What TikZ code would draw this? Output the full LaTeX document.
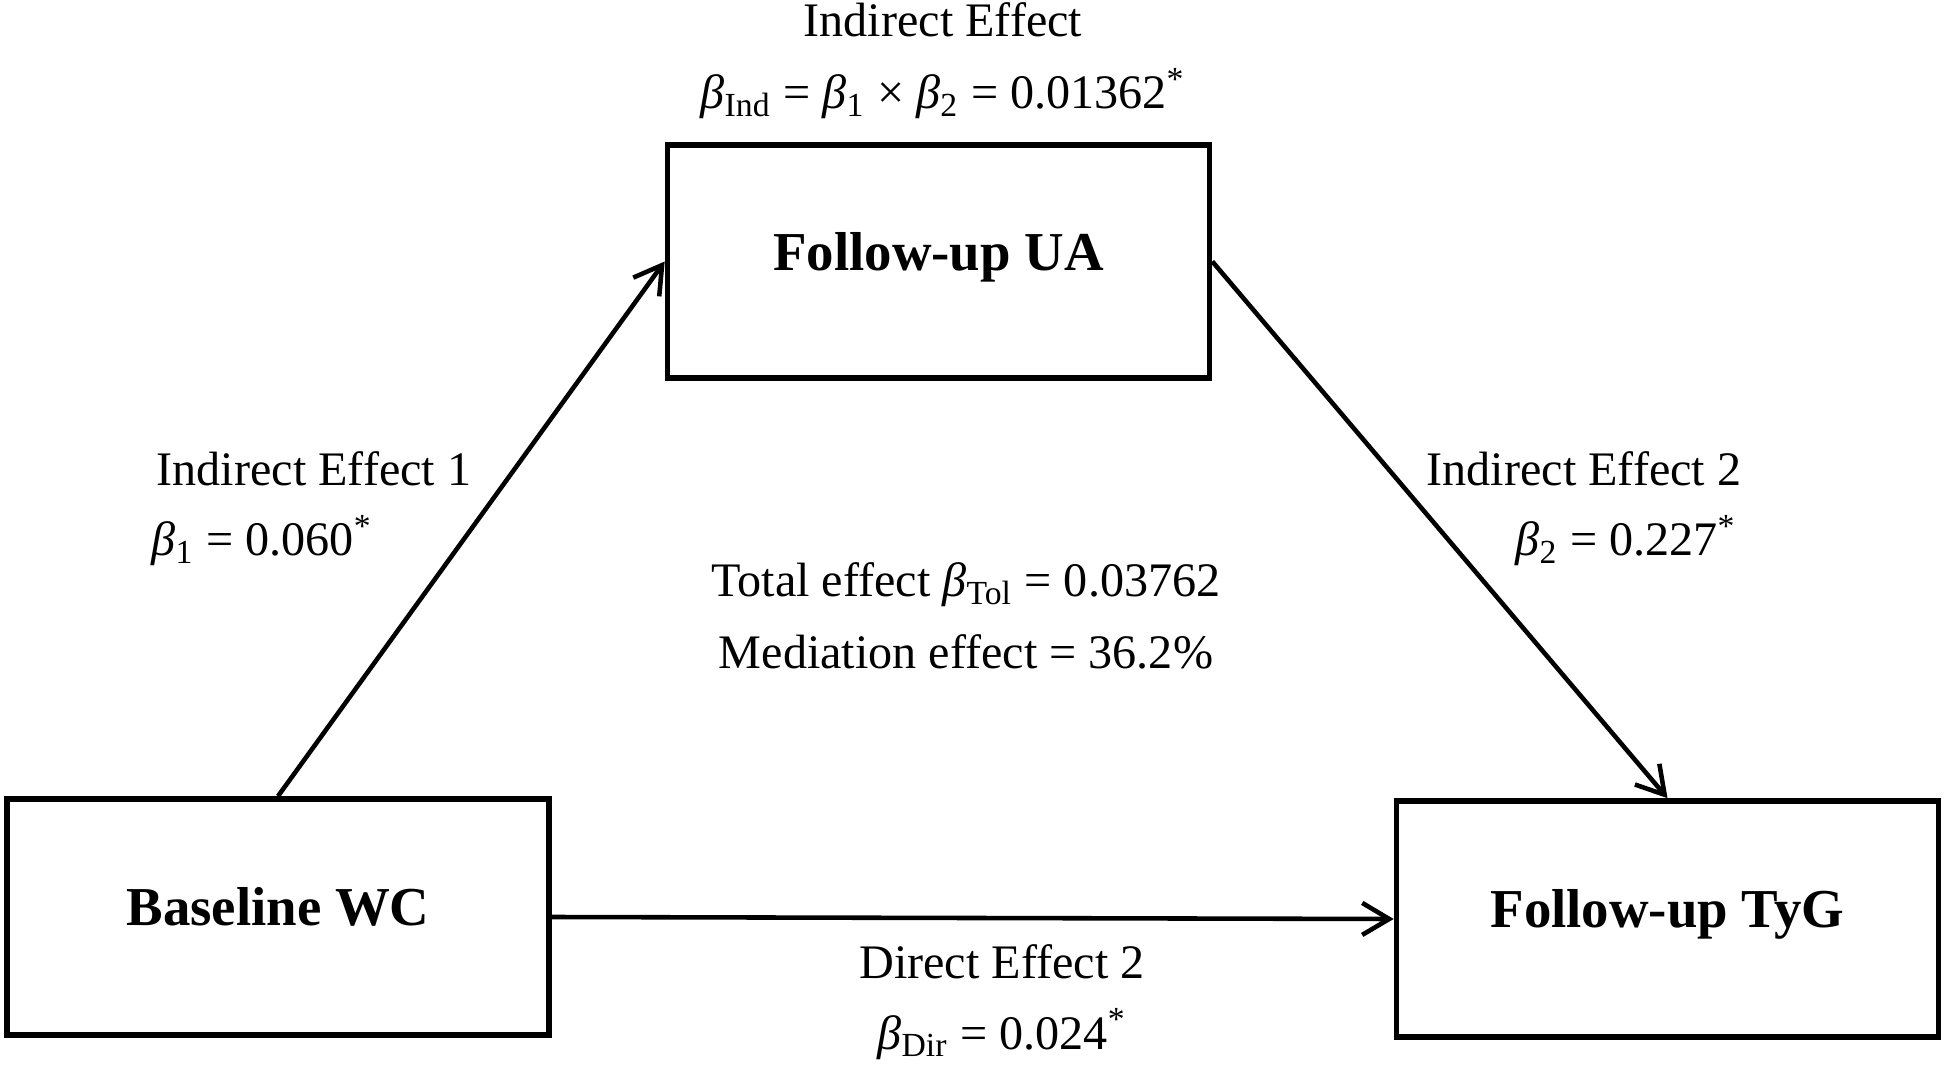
\documentclass[tikz,border=0pt]{standalone}
\usepackage{fontspec}
\setmainfont{Liberation Serif}
\usepackage{tikz}
\usetikzlibrary{positioning,arrows.meta}

\newcommand{\bsym}[1]{\textit{β}\textsubscript{#1}}

\begin{document}
\begin{tikzpicture}[
    >={Straight Barb[length=2.7mm,width=3.2mm]},
    box/.style={
        draw, line width=1.6pt,
        minimum width=5.42cm, minimum height=2.36cm,
        inner sep=0pt, text height=0.7em, text depth=0.2em,
        font=\fontsize{15.6}{18}\selectfont\bfseries
    },
    effect/.style={->, line width=1.3pt},
    lbl/.style={inner sep=0pt, font=\fontsize{13.7}{16}\selectfont}
]
\useasboundingbox (0,0) rectangle (19.46,10.65);

% Variables
\node[box] (wc)  at (2.78,1.48)   {Baseline WC};
\node[box, minimum height=2.33cm] (ua)  at (9.385,8.035) {Follow-up UA};
\node[box] (tyg) at (16.675,1.46) {Follow-up TyG};

% Paths
\draw[effect] (wc.north) -- (ua.west);
\draw[effect] (ua.east) -- (tyg.north);
\draw[effect] (wc.east) -- (tyg.west);

% ---- Indirect effect (top) ----
\node[lbl, anchor=base] (indtitle) at (9.43,10.28) {Indirect Effect};
\node[lbl, anchor=base] (indval) at ([yshift=-0.72cm]indtitle.base)
{\bsym{Ind} = \textit{β}\textsubscript{1} × \textit{β}\textsubscript{2} = 0.01362\textsuperscript{*}};

% ---- Indirect effect 1 (left) ----
\node[lbl, anchor=base west] (ind1) at (1.56,5.79) {Indirect Effect 1};
\node[lbl, anchor=base west] (b1) at ([xshift=-0.05cm,yshift=-0.70cm]ind1.base west)
{\bsym{1} = 0.060\textsuperscript{*}};

% ---- Indirect effect 2 (right) ----
\node[lbl, anchor=base east] (ind2) at (17.42,5.79) {Indirect Effect 2};
\node[lbl, anchor=base east] (b2) at ([xshift=-0.05cm,yshift=-0.70cm]ind2.base east)
{\bsym{2} = 0.227\textsuperscript{*}};

% ---- Total and mediation effect (centre) ----
\node[lbl, anchor=base] (total) at (9.66,4.68)
{Total effect \bsym{Tol} = 0.03762};
\node[lbl, anchor=base] (medi) at ([yshift=-0.71cm]total.base)
{Mediation effect = 36.2\%};

% ---- Direct effect (bottom) ----
\node[lbl, anchor=base] (dir) at (10.02,0.87) {Direct Effect 2};
\node[lbl, anchor=base] (bdir) at ([yshift=-0.71cm]dir.base)
{\bsym{Dir} = 0.024\textsuperscript{*}};

\end{tikzpicture}
\end{document}
